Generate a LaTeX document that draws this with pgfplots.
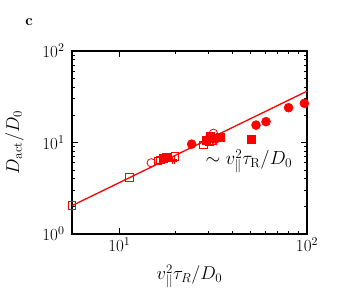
\RequirePackage{fix-cm}
\documentclass[border=0pt]{standalone}
\usepackage{pgfplots}
\pgfplotsset{compat=1.18}
\usetikzlibrary{plotmarks}
\pgfdeclareplotmark{hash}{%
  \pgfpathmoveto{\pgfpoint{-0.35\pgfplotmarksize}{-\pgfplotmarksize}}%
  \pgfpathlineto{\pgfpoint{-0.35\pgfplotmarksize}{\pgfplotmarksize}}%
  \pgfpathmoveto{\pgfpoint{0.35\pgfplotmarksize}{-\pgfplotmarksize}}%
  \pgfpathlineto{\pgfpoint{0.35\pgfplotmarksize}{\pgfplotmarksize}}%
  \pgfpathmoveto{\pgfpoint{-\pgfplotmarksize}{-0.35\pgfplotmarksize}}%
  \pgfpathlineto{\pgfpoint{\pgfplotmarksize}{-0.35\pgfplotmarksize}}%
  \pgfpathmoveto{\pgfpoint{-\pgfplotmarksize}{0.35\pgfplotmarksize}}%
  \pgfpathlineto{\pgfpoint{\pgfplotmarksize}{0.35\pgfplotmarksize}}%
  \pgfusepathqstroke}
\begin{document}
\begin{tikzpicture}[font=\fontsize{15}{18}\selectfont]
\path[use as bounding box] (0,0) rectangle (338pt,289pt);
\node[font=\fontsize{15}{18}\selectfont\bfseries] at (29pt,267pt) {c};
\begin{axis}[
  at={(72pt,55pt)}, anchor=south west,
  scale only axis, width=235pt, height=183pt,
  xmode=log, ymode=log,
  xmin=5.6, xmax=100, ymin=1, ymax=100,
  axis line style={line width=1.2pt},
  tick style={black, line width=0.9pt},
  major tick length=6pt, minor tick length=3.5pt,
  tick align=inside,
  xtick={10,100}, ytick={1,10,100},
  tick label style={font=\fontsize{17}{20}\selectfont},
  yticklabel style={xshift=-4pt},
  label style={font=\fontsize{18.5}{22}\selectfont},
  xlabel={$v_{||}^2\tau_R/D_0$},
  ylabel={$D_{\mathrm{act}}/D_0$},
  xlabel style={at={(axis description cs:0.5,-0.251)}, anchor=base},
  ylabel style={at={(axis description cs:-0.2255,0.5)}, anchor=base},
  clip=false,
]
\addplot[red, line width=1.3pt, no marks] coordinates {(5.6,2.04) (100,36.4)};
% open squares
\addplot[red, only marks, mark=square, mark size=3.8pt, line width=0.8pt] coordinates {
(5.6,2.04) (11.3,4.17) (16.1,6.3) (16.6,6.45) (19.8,7.0) (28.1,9.4) (30.3,10.2) (31.5,10.6)};
% open circles
\addplot[red, only marks, mark=o, mark size=4.2pt, line width=0.8pt] coordinates {
(14.8,6.0) (31.7,12.6) (30.0,11.0)};
% hash
\addplot[red, only marks, mark=hash, mark size=3.8pt, line width=0.8pt] coordinates {
(19.4,6.4) (32.0,10.4) (29.5,10.2)};
% filled squares
\addplot[red, only marks, mark=square*, mark size=4pt, line width=0.5pt] coordinates {
(17.2,6.8) (17.9,6.9) (29.2,10.5) (30.4,11.6) (31.5,11.2) (34.4,11.4) (50.3,10.9)};
% filled circles
\addplot[red, only marks, mark=*, mark size=4.5pt, line width=0.5pt] coordinates {
(24.3,9.6) (33.0,11.1) (53.5,15.5) (60.5,16.9) (79.8,24.0) (96.8,26.8)};
\node[anchor=base west, font=\fontsize{19}{22}\selectfont] at (axis cs:27.6,5.68) {$\sim v_{\|}^2\tau_{\mathrm{R}}/D_0$};
\end{axis}
\end{tikzpicture}
\end{document}
